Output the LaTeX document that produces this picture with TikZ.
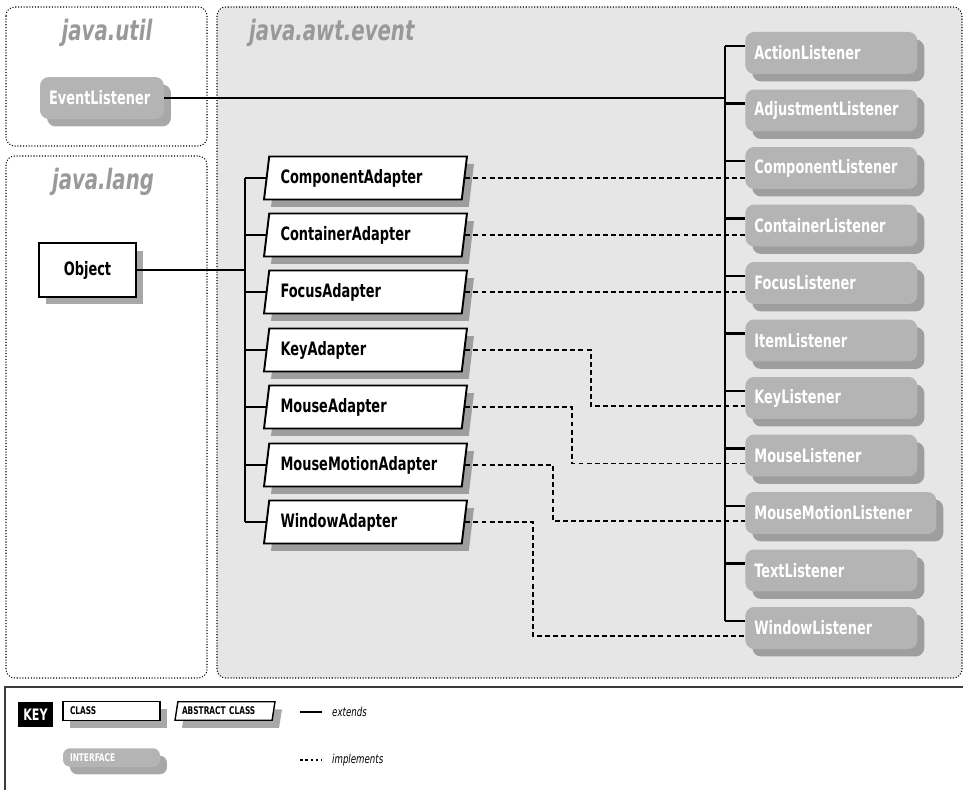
\documentclass[tikz,border=0pt]{standalone}
\usepackage{fontspec}
\setmainfont{DejaVu Sans Condensed}[FakeStretch=0.78]
\usetikzlibrary{positioning,shapes.geometric,shadows}
\definecolor{pkgfill}{RGB}{230,230,230}
\definecolor{ifacegray}{RGB}{180,180,180}
\definecolor{titlegray}{RGB}{153,153,153}
\definecolor{shadowgray}{RGB}{110,110,110}
\definecolor{framegray}{RGB}{60,60,60}
\tikzset{
  pkgbox/.style={densely dotted, line width=0.6pt, rounded corners=5pt},
  pkgtitle/.style={font=\fontsize{16}{18}\selectfont\bfseries\itshape, text=titlegray},
  boxshadow/.style={drop shadow={shadow xshift=0.14cm, shadow yshift=-0.15cm, fill=shadowgray, opacity=0.6}},
  namefont/.style={font=\fontsize{10.5}{12}\selectfont\bfseries},
  iface/.style={rounded corners=5pt, fill=ifacegray, text=white, namefont, minimum height=0.84cm,
    text width=3.08cm, inner xsep=0.18cm, align=left, boxshadow},
  cls/.style={draw, line width=1.1pt, fill=white, namefont, boxshadow},
  abscls/.style={trapezium, trapezium left angle=80, trapezium right angle=100, trapezium stretches body,
    draw, line width=1.1pt, fill=white, namefont, minimum height=0.86cm, minimum width=4.06cm,
    text width=3.4cm, inner xsep=0.12cm, align=left, boxshadow},
  keysize/.style={font=\fontsize{6}{7}\selectfont\bfseries, minimum height=0.37cm, inner ysep=0pt},
  ext/.style={line width=1.2pt},
  impl/.style={line width=0.6pt, dash pattern=on 2.8pt off 1.8pt},
}
\begin{document}
\begin{tikzpicture}[x=0.02cm, y=-0.02cm]
  \useasboundingbox (0,0) rectangle (963,790);
  % package frames
  \draw[pkgbox, fill=pkgfill] (217,7) rectangle (962,678);
  \draw[pkgbox] (6,7) rectangle (207,146);
  \draw[pkgbox] (6,156) rectangle (207,678);
  \node[pkgtitle] (utilT) at (107,33) {java.util};
  \node[pkgtitle] (langT) at (103,182) {java.lang};
  \node[pkgtitle, anchor=west] (awtT) at (243,33) {java.awt.event};
  % interfaces
  \node[iface, text width=2.12cm] (evtL) at (102,98) {EventListener};
  \node[iface, anchor=west] (actL) at (745,53) {ActionListener};
  \node[iface, anchor=west] (adjL) at (745,110.5) {AdjustmentListener};
  \node[iface, anchor=west] (compL) at (745,168) {ComponentListener};
  \node[iface, anchor=west] (contL) at (745,225.5) {ContainerListener};
  \node[iface, anchor=west] (focL) at (745,283) {FocusListener};
  \node[iface, anchor=west] (itemL) at (745,340.5) {ItemListener};
  \node[iface, anchor=west] (keyL) at (745,398) {KeyListener};
  \node[iface, anchor=west] (mouseL) at (745,455.5) {MouseListener};
  \node[iface, anchor=west, text width=3.46cm] (motionL) at (745,513) {MouseMotionListener};
  \node[iface, anchor=west] (textL) at (745,570.5) {TextListener};
  \node[iface, anchor=west] (winL) at (745,628) {WindowListener};
  % classes
  \node[cls, minimum width=1.94cm, minimum height=1.08cm] (obj) at (87.5,270) {Object};
  \node[abscls] (compA) at (365.5,178) {ComponentAdapter};
  \node[abscls] (contA) at (365.5,235) {ContainerAdapter};
  \node[abscls] (focA) at (365.5,292) {FocusAdapter};
  \node[abscls] (keyA) at (365.5,350) {KeyAdapter};
  \node[abscls] (mouseA) at (365.5,407) {MouseAdapter};
  \node[abscls] (motionA) at (365.5,465) {MouseMotionAdapter};
  \node[abscls] (winA) at (365.5,522) {WindowAdapter};
  % extends
  \coordinate (ltrunk) at (725,0);
  \coordinate (atrunk) at (245,0);
  \draw[ext] (evtL.east) -- (evtL.east -| ltrunk);
  \draw[ext] ([yshift=0.14cm]ltrunk |- actL.west) -- ([yshift=0.14cm]ltrunk |- winL.west);
  \foreach \n in {actL,adjL,compL,contL,focL,itemL,keyL,mouseL,motionL,textL,winL}
    \draw[ext] ([yshift=0.14cm]\n.west) -- ([yshift=0.14cm]ltrunk |- \n.west);
  \draw[ext] (obj.east) -- (obj.east -| atrunk);
  \draw[ext] (atrunk |- compA.west) -- (atrunk |- winA.west);
  \foreach \n in {compA,contA,focA,keyA,mouseA,motionA,winA}
    \draw[ext] (\n.west) -- (atrunk |- \n.west);
  % implements
  \coordinate (jogK) at (591,0);
  \coordinate (jogM) at (572,0);
  \coordinate (jogMM) at (553,0);
  \coordinate (jogW) at (533,0);
  \foreach \a/\l in {compA/compL,contA/contL,focA/focL}
    \draw[impl] (\a.east) -- (\a.east -| \l.west);
  \draw[impl] (keyA.east) -| ([yshift=-0.16cm]jogK |- keyL.west) -- ([yshift=-0.16cm]keyL.west);
  \draw[impl] (mouseA.east) -| ([yshift=-0.16cm]jogM |- mouseL.west) -- ([yshift=-0.16cm]mouseL.west);
  \draw[impl] (motionA.east) -| ([yshift=-0.16cm]jogMM |- motionL.west) -- ([yshift=-0.16cm]motionL.west);
  \draw[impl] (winA.east) -| ([yshift=-0.16cm]jogW |- winL.west) -- ([yshift=-0.16cm]winL.west);
  % key
  \draw[framegray, line width=0.8pt] (963,687) -- (5,687) -- (5,790);
  \node[fill=black, text=white, font=\fontsize{9}{10}\selectfont\bfseries, minimum width=0.7cm,
    minimum height=0.5cm, inner sep=0pt] (keyT) at (35.5,714.5) {KEY};
  \node[cls, keysize, line width=0.8pt, text width=1.66cm, inner xsep=0.14cm, align=left] (keyCls) at (111.5,711) {CLASS};
  \node[abscls, keysize, line width=0.8pt, trapezium left angle=70, trapezium right angle=110,
    minimum width=2cm, text width=1.72cm, inner xsep=0cm] (keyAbs) at (225,711) {ABSTRACT CLASS};
  \node[iface, keysize, rounded corners=4pt, text width=1.66cm, inner xsep=0.14cm] (keyIf) at (111.5,757.5) {INTERFACE};
  \coordinate (extA) at (300,712);
  \coordinate (extB) at (322,712);
  \coordinate (implA) at (300,760);
  \coordinate (implB) at (322,760);
  \draw[ext] (extA) -- (extB);
  \draw[impl, line width=1pt, dash pattern=on 1.5pt off 1.5pt] (implA) -- (implB);
  \node[font=\fontsize{7}{8}\selectfont\itshape, anchor=west] (extT) at (326,712) {extends};
  \node[font=\fontsize{7}{8}\selectfont\itshape, anchor=west] (implT) at (326,760) {implements};
\end{tikzpicture}
\end{document}
